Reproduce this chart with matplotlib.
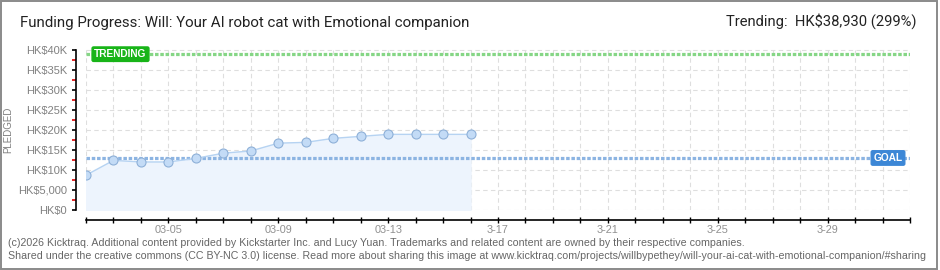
import matplotlib
matplotlib.use("Agg")
import matplotlib.pyplot as plt
import matplotlib.dates as mdates
from matplotlib.patches import Rectangle
from matplotlib.ticker import MultipleLocator

# ---- data ----
dates = ['2026-03-02', '2026-03-03', '2026-03-04', '2026-03-05', '2026-03-06',
         '2026-03-07', '2026-03-08', '2026-03-09', '2026-03-10', '2026-03-11',
         '2026-03-12', '2026-03-13', '2026-03-14', '2026-03-15', '2026-03-16']
pledged = [8700, 12400, 12000, 12000, 12900, 14200, 14750, 16700, 16900,
           17900, 18400, 18900, 18900, 18900, 18900]
goal = 13000
trending = 38930
x_start = '2026-03-02'
x_end = '2026-04-01'
tick_dates = ['2026-03-05', '2026-03-09', '2026-03-13', '2026-03-17',
              '2026-03-21', '2026-03-25', '2026-03-29']
tick_labels = ['03-05', '03-09', '03-13', '3-17', '3-21', '3-25', '3-29']
y_ticks = [0, 5000, 10000, 15000, 20000, 25000, 30000, 35000, 40000]
y_labels = ['HK$0', 'HK$5,000', 'HK$10K', 'HK$15K', 'HK$20K', 'HK$25K',
            'HK$30K', 'HK$35K', 'HK$40K']

title = "Funding Progress: Will: Your AI robot cat with Emotional companion"
right_title = "Trending:  HK$38,930 (299%)"
footer1 = ("(c)2026 Kicktraq. Additional content provided by Kickstarter Inc. and Lucy Yuan. "
           "Trademarks and related content are owned by their respective companies.")
footer2 = ("Shared under the creative commons (CC BY-NC 3.0) license. Read more about sharing "
           "this image at www.kicktraq.com/projects/willbypethey/will-your-ai-cat-with-emotional-companion/#sharing")

W, H = 940, 270
fig = plt.figure(figsize=(W / 100, H / 100), dpi=100)
fig.patch.set_facecolor('white')

narrow = ['Roboto', 'DejaVu Sans']
regular = ['Liberation Sans', 'DejaVu Sans']
PX = 0.72  # points per pixel at 100 dpi

def fx(px):
    return px / W

def fy(py):
    return 1 - py / H

ax = fig.add_axes([fx(86), fy(210), fx(910) - fx(86), (210 - 47.9) / H])

xd = mdates.datestr2num(dates)
x0 = mdates.datestr2num(x_start)
x1 = mdates.datestr2num(x_end)

ax.set_xlim(x0, x1)
ax.set_ylim(0, 40500)

ax.xaxis.set_minor_locator(MultipleLocator(1))
ax.set_xticks(mdates.datestr2num(tick_dates))
ax.set_xticklabels(tick_labels)
ax.set_yticks(y_ticks)
ax.set_yticklabels(y_labels)
ax.yaxis.set_minor_locator(MultipleLocator(2500))

ax.grid(True, which='both', axis='x', color='#dedede', linestyle=(0, (4, 3)), linewidth=0.8)
ax.grid(True, which='major', axis='y', color='#dedede', linestyle=(0, (4, 3)), linewidth=0.8)
ax.set_axisbelow(True)

# area + line + markers
ax.fill_between(xd, 0, pledged, color='#edf4fd', zorder=1)
ax.plot(xd, pledged, color='#b6d3f2', linewidth=1.0, zorder=3)
ax.plot(xd, pledged, linestyle='none', marker='o', markersize=6.5,
        markerfacecolor='#c3dbf6', markeredgecolor='#8eb0d8', markeredgewidth=0.8, zorder=4)

# goal & trending lines
ax.axhline(goal, color='#8cb4e2', linewidth=2.3, linestyle=(0, (1.1, 0.55)), zorder=2)
ax.axhline(trending, color='#86d686', linewidth=2.3, linestyle=(0, (1.1, 0.55)), zorder=2)

# labels on lines
ax.annotate('TRENDING', xy=(x0, trending), xycoords='data',
            xytext=(7 + 27.5, 0), textcoords='offset pixels',
            ha='center', va='center', fontsize=7.3, color='white', fontweight='bold',
            family=regular, zorder=6,
            bbox=dict(boxstyle='round,pad=0.22,rounding_size=0.15', fc='#18b418', ec='#18b418'))
ax.annotate('GOAL', xy=(x1, goal), xycoords='data',
            xytext=(-22, 0), textcoords='offset pixels',
            ha='center', va='center', fontsize=7.3, color='white', fontweight='bold',
            family=regular, zorder=6,
            bbox=dict(boxstyle='round,pad=0.22,rounding_size=0.15', fc='#3c87d6', ec='#3c87d6'))

# spines
for s in ['top', 'right']:
    ax.spines[s].set_visible(False)
ax.spines['left'].set_position(('outward', 10 * PX))
ax.spines['bottom'].set_position(('outward', 10 * PX))
ax.spines['left'].set_bounds(0, 40000)
ax.spines['bottom'].set_bounds(x0, x1)
for s in ['left', 'bottom']:
    ax.spines[s].set_color('black')
    ax.spines[s].set_linewidth(1.2)

ax.tick_params(axis='y', which='major', direction='out', length=3, width=1.2,
               color='black', labelsize=8, labelcolor='#808080', pad=3.5)
ax.tick_params(axis='y', which='minor', direction='out', length=3, width=1.2, color='#e00000')
ax.tick_params(axis='x', which='both', direction='inout', length=4, width=1.0,
               color='black', labelsize=7.8, labelcolor='#909090', pad=1.5)
for lbl in ax.get_yticklabels() + ax.get_xticklabels():
    lbl.set_family(regular)

# y label
fig.text(fx(8), fy(130), 'PLEDGED', rotation=90, ha='center', va='center',
         fontsize=7, color='#808080', family=regular)

# titles
fig.text(fx(20), fy(23), title, ha='left', va='center', fontsize=10.8,
         color='#222222', family=narrow)
fig.text(fx(916), fy(21), right_title, ha='right', va='center', fontsize=10.6,
         color='#222222', family=narrow)

# footer
fig.text(fx(8), fy(243), footer1, ha='left', va='center', fontsize=7.7,
         color='#666666', family=regular)
fig.text(fx(8), fy(256), footer2, ha='left', va='center', fontsize=7.7,
         color='#666666', family=regular)

# border
fig.add_artist(Rectangle((fx(0.8), fy(268.5)), fx(936.5), (268.5 - 0.8) / H,
                         transform=fig.transFigure, fill=False,
                         edgecolor='#8a8a8a', linewidth=1.4))

fig.savefig('out.png', dpi=100, facecolor='white')
